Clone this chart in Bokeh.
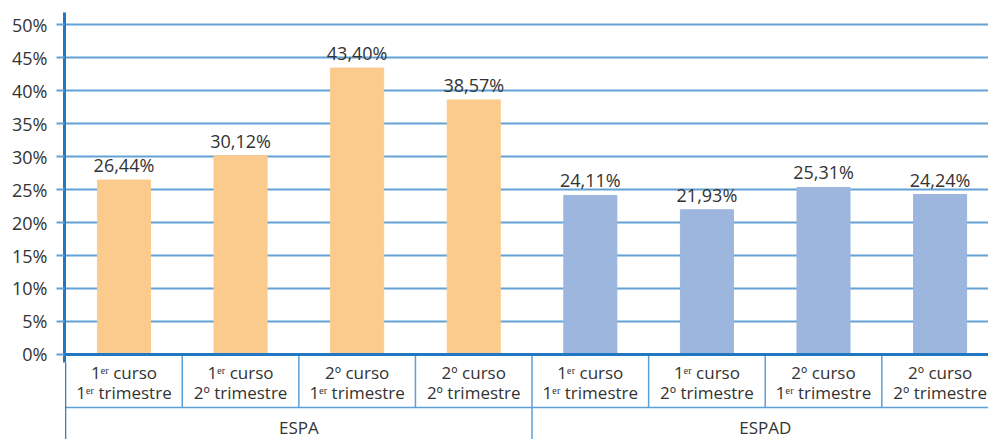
from bokeh.plotting import figure
from bokeh.models import Range1d, FixedTicker, PrintfTickFormatter, ColumnDataSource
from bokeh.core.properties import value
from bokeh.embed import file_html
from bokeh.resources import INLINE

# ---- data ----
groups = ["ESPA", "ESPAD"]
curso_labels = ["1ᵉʳ curso", "1ᵉʳ curso", "2º curso", "2º curso"]
trimestre_labels = ["1ᵉʳ trimestre", "2º trimestre", "1ᵉʳ trimestre", "2º trimestre"]
espa_values = [26.44, 30.12, 43.40, 38.57]
espad_values = [24.11, 21.93, 25.31, 24.24]
y_ticks = [0, 5, 10, 15, 20, 25, 30, 35, 40, 45, 50]

# ---- styles ----
FONT = "Open Sans"
TEXT = "#333333"
GRID = "#62a2d6"
AXIS = "#2278c0"
SEP = "#5d9fd6"
ORANGE = "#fbcb8d"
BLUE = "#9db6de"

n_sub = len(curso_labels)
n = n_sub * len(groups)
values = espa_values + espad_values
colors = [ORANGE] * n_sub + [BLUE] * n_sub
xs = [i + 0.5 for i in range(n)]
labels = [f"{v:.2f}".replace(".", ",") + "%" for v in values]

W, H = 988, 439
x_start, x_end = -0.01, 7.915
y_bottom, y_top = -12.88, 51.82
row_bottom = -8.03
axis_stub = -1.2

p = figure(width=W, height=H, output_backend="svg", toolbar_location=None,
           x_range=Range1d(x_start, x_end), y_range=Range1d(y_bottom, y_top),
           x_axis_location=None, min_border_left=64, min_border_right=0,
           min_border_top=12, min_border_bottom=0)
p.outline_line_color = None
p.xgrid.visible = False

p.yaxis.ticker = FixedTicker(ticks=y_ticks)
p.yaxis.formatter = PrintfTickFormatter(format="%d%%")
p.yaxis.bounds = (axis_stub, y_top)
p.yaxis.axis_line_width = 3
p.yaxis.axis_line_color = AXIS
p.yaxis.major_tick_line_color = GRID
p.yaxis.major_tick_line_width = 2
p.yaxis.major_tick_out = 8
p.yaxis.major_tick_in = 0
p.yaxis.minor_tick_line_color = None
p.yaxis.major_label_text_font = FONT
p.yaxis.major_label_text_font_size = "18px"
p.yaxis.major_label_text_color = TEXT
p.yaxis.major_label_standoff = 9

p.ygrid.ticker = FixedTicker(ticks=y_ticks[1:])
p.ygrid.grid_line_color = GRID
p.ygrid.grid_line_width = 2

src = ColumnDataSource(dict(x=xs, top=values, color=colors, label=labels))
p.vbar(x="x", top="top", width=0.455, bottom=0, color="color", source=src)

p.text(x="x", y="top", text="label", source=src, y_offset=-3,
       text_align="center", text_baseline="bottom",
       text_font=value(FONT), text_font_size="18px", text_color=TEXT)

# category boxes
row_seps = [i for i in range(1, n) if i % n_sub != 0]
grp_seps = [i for i in range(1, n) if i % n_sub == 0]
p.segment(x0=row_seps, y0=[0] * len(row_seps), x1=row_seps, y1=[row_bottom] * len(row_seps),
          line_color=SEP, line_width=1.5)
p.segment(x0=grp_seps, y0=[0] * len(grp_seps), x1=grp_seps, y1=[y_bottom] * len(grp_seps),
          line_color=SEP, line_width=1.5)
p.segment(x0=[0], y0=[row_bottom], x1=[x_end], y1=[row_bottom], line_color=SEP, line_width=1.5)
p.segment(x0=[0], y0=[y_bottom], x1=[0], y1=[axis_stub], line_color=AXIS, line_width=1.2)
p.segment(x0=[x_start], y0=[0], x1=[x_end], y1=[0], line_color=AXIS, line_width=3)

cat_src = ColumnDataSource(dict(x=xs, c=curso_labels * len(groups), t=trimestre_labels * len(groups)))
p.text(x="x", y=0, text="c", source=cat_src, y_offset=18, text_align="center",
       text_baseline="middle", text_font=value(FONT), text_font_size="17px", text_color=TEXT)
p.text(x="x", y=0, text="t", source=cat_src, y_offset=38, text_align="center",
       text_baseline="middle", text_font=value(FONT), text_font_size="17px", text_color=TEXT)

grp_x = [g * n_sub + n_sub / 2 for g in range(len(groups))]
p.text(x=grp_x, y=[row_bottom] * len(groups), text=groups, y_offset=20, text_align="center",
       text_baseline="middle", text_font=value(FONT), text_font_size="17px", text_color=TEXT)

open("out.html", "w").write(file_html(p, INLINE))
